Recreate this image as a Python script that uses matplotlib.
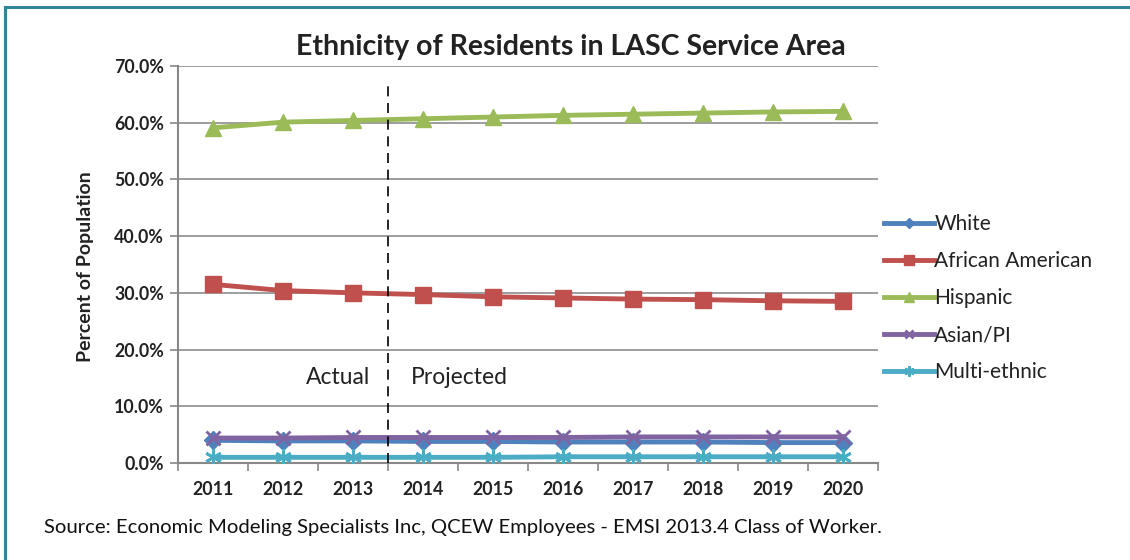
import matplotlib
matplotlib.use("Agg")
import matplotlib.pyplot as plt
from matplotlib.lines import Line2D

plt.rcParams['font.family'] = ['Lato', 'DejaVu Sans']

years = ["2011", "2012", "2013", "2014", "2015", "2016", "2017", "2018", "2019", "2020"]
white = [4.0, 3.9, 3.9, 3.8, 3.8, 3.7, 3.7, 3.7, 3.6, 3.6]
african_american = [31.5, 30.4, 30.0, 29.7, 29.3, 29.1, 28.9, 28.8, 28.6, 28.5]
hispanic = [59.1, 60.1, 60.4, 60.7, 61.0, 61.3, 61.5, 61.7, 61.9, 62.0]
asian_pi = [4.4, 4.4, 4.5, 4.5, 4.5, 4.5, 4.6, 4.6, 4.6, 4.6]
multi_ethnic = [1.0, 1.0, 1.0, 1.0, 1.0, 1.1, 1.1, 1.1, 1.1, 1.1]
series_names = ["White", "African American", "Hispanic", "Asian/PI", "Multi-ethnic"]
yticks = [0, 10, 20, 30, 40, 50, 60, 70]
title = "Ethnicity of Residents in LASC Service Area"
ylabel = "Percent of Population"
source = "Source: Economic Modeling Specialists Inc, QCEW Employees - EMSI 2013.4 Class of Worker."

fig = plt.figure(figsize=(11.3, 5.6), dpi=100)
fig.patch.set_facecolor("white")

# teal frame (top and left visible)
fig.add_artist(Line2D([5/1130, 1.0], [1 - 7/560, 1 - 7/560], transform=fig.transFigure,
                      color="#31849B", lw=2.2))
fig.add_artist(Line2D([5/1130, 5/1130], [0.0, 1 - 7/560], transform=fig.transFigure,
                      color="#31849B", lw=2.2))

ax = fig.add_axes([178/1130, 1 - 463/560, 700/1130, 397/560])
x = list(range(len(years)))

styles = [
    (white, "#4F81BD", "D", 9),
    (african_american, "#C0504D", "s", 11),
    (hispanic, "#9BBB59", "^", 12),
    (asian_pi, "#8064A2", "x", 10),
    (multi_ethnic, "#4BACC6", (6, 2, 0), 12),
]
for (vals, col, mk, ms), name in zip(styles, series_names):
    ax.plot(x, vals, color=col, lw=3.5, marker=mk, markersize=ms,
            markeredgewidth=2 if (mk == "x" or isinstance(mk, tuple)) else 1,
            markerfacecolor=col, markeredgecolor=col, label=name, zorder=3)

ax.set_xlim(-0.5, len(years) - 0.5)
ax.set_ylim(0, 70)
ax.set_yticks(yticks)
ax.set_yticklabels([f"{v:.1f}%" for v in yticks])
ax.set_xticks(x)
ax.set_xticklabels(years)
ax.set_xticks([i + 0.5 for i in range(-1, len(years))], minor=True)
ax.tick_params(axis="x", which="major", length=0, pad=13)
ax.tick_params(axis="x", which="minor", length=6, width=1.2, color="#888888")
ax.tick_params(axis="y", length=6, width=1.2, color="#888888", pad=4)
for lab in ax.get_xticklabels() + ax.get_yticklabels():
    lab.set_fontsize(12.8)
    lab.set_fontweight("bold")
    lab.set_color("#222222")

ax.grid(axis="y", color="#8C8C8C", lw=1.2, zorder=0)
for s in ["top", "right"]:
    ax.spines[s].set_visible(False)
ax.spines["left"].set_color("#888888")
ax.spines["left"].set_linewidth(1.5)
ax.spines["bottom"].set_color("#888888")
ax.spines["bottom"].set_linewidth(1.5)

# actual/projected divider
ax.axvline(2.5, ymin=0, ymax=(463-85)/397, color="black", lw=1.2, ls=(0, (6, 4)), zorder=4)
ax.text(2.25, 15, "Actual", ha="right", va="center", fontsize=16.5, color="#222222")
ax.text(2.82, 15, "Projected", ha="left", va="center", fontsize=16.5, color="#222222")

fig.text(571/1130, 1 - 47/560, title, ha="center", va="center", fontsize=20.5, fontweight="bold",
         color="#222222")
fig.text(85/1130, 1 - 267/560, ylabel, ha="center", va="center", rotation=90, fontsize=14,
         fontweight="bold", color="#222222")
fig.text(44/1130, 1 - 527/560, source, ha="left", va="center", fontsize=14.6, color="#111111")

leg = ax.legend(loc="center left", bbox_to_anchor=(876/1130, 1 - 298/560),
                bbox_transform=fig.transFigure, frameon=False, fontsize=15,
                handlelength=2.4, handletextpad=0.0, labelspacing=0.82, markerscale=0.6,
                borderaxespad=0)
for t in leg.get_texts():
    t.set_color("#222222")

fig.savefig("out.png", dpi=100)
